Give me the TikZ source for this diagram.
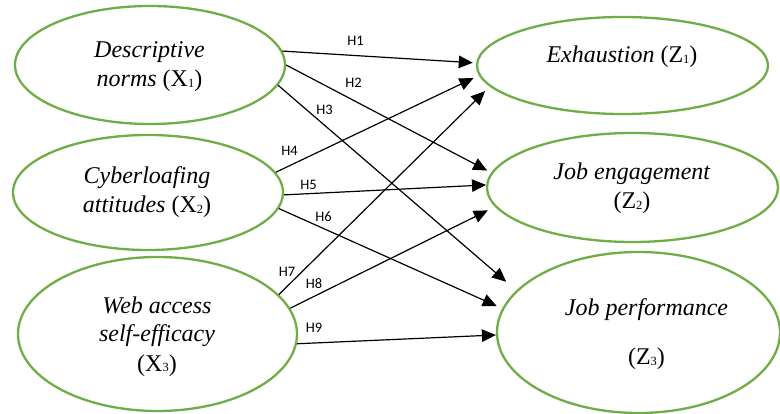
\documentclass[tikz,border=0pt]{standalone}
\usepackage{fontspec}
\setmainfont{Liberation Serif}[ItalicFont={Liberation Serif Italic},BoldFont={Liberation Serif Bold}]
\newfontfamily\lblfont{Carlito}
\usetikzlibrary{shapes.geometric,arrows.meta}
\definecolor{ogreen}{RGB}{112,173,71}
\newcommand{\sbx}[1]{\raisebox{-1pt}{\fontsize{12.5}{12.5}\selectfont #1}}
\begin{document}
\begin{tikzpicture}[x=1pt,y=-1pt,
  ell/.style={ellipse,draw=ogreen,line width=2.3pt,inner sep=0pt},
  txt/.style={font=\fontsize{24}{29}\selectfont,align=center,anchor=base,inner sep=0pt},
  hlab/.style={font=\lblfont\fontsize{14.5}{14.5}\selectfont,inner sep=0pt},
  conn/.style={line width=1.2pt,-{Triangle[length=14pt,width=12.5pt]}}]
\useasboundingbox (0,0) rectangle (780,414);

% ellipses
\node[ell,minimum width=270pt,minimum height=118pt] (X1) at (150,65) {};
\node[ell,minimum width=270pt,minimum height=115pt] (X2) at (148,192.5) {};
\node[ell,minimum width=279pt,minimum height=154pt] (X3) at (157.5,334) {};
\node[ell,minimum width=291pt,minimum height=97pt] (Z1) at (622.5,65.5) {};
\node[ell,minimum width=291pt,minimum height=109pt] (Z2) at (632.5,187.5) {};
\node[ell,minimum width=283pt,minimum height=161pt] (Z3) at (638.5,332.5) {};

% texts (base anchor = baseline of the last line)
\node[txt] (X1t) at (149.5,86.5) {\textit{Descriptive}\\\textit{norms} (X\sbx{1})};
\node[txt] (X2t) at (147,213) {\textit{Cyberloafing}\\\textit{attitudes} (X\sbx{2})};
\node[txt] (X3t) at (157,371) {\textit{Web access}\\\textit{self-efficacy}\\(X\sbx{3})};
\node[txt] (Z1t) at (622,63) {\textit{Exhaustion} (Z\sbx{1})};
\node[txt] (Z2t) at (632,209) {\textit{Job engagement}\\(Z\sbx{2})};
\node[txt] (Z3t) at (646.5,365) {\textit{Job performance}\\[21pt](Z\sbx{3})};

% connectors
\draw[conn,shorten >=3.3pt] (X1.6) -- (Z1.179);
\draw[conn,shorten >=4.5pt] (X1.0) -- (Z2.174);
\draw[conn,shorten >=13.3pt] (X1.-9) -- (Z3.161);
\draw[conn,shorten >=6pt] (X2.9) -- (Z1.184);
\draw[conn] (X2.-1) -- (Z2.179);
\draw[conn,shorten >=6pt] (X2.-7) -- (Z3.170);
\draw[conn,shorten >=6.5pt] (X3.18) -- (Z1.189);
\draw[conn,shorten >=8pt] (X3.11) -- (Z2.188);
\draw[conn] (X3.-4) -- (Z3.181);

% labels
\node[hlab] (h1) at (355.5,41.3) {H1};
\node[hlab] (h2) at (353.5,83) {H2};
\node[hlab] (h3) at (324.5,109.5) {H3};
\node[hlab] (h4) at (289.5,150.5) {H4};
\node[hlab] (h5) at (308.5,185) {H5};
\node[hlab] (h6) at (323.5,216.7) {H6};
\node[hlab] (h7) at (287,271.7) {H7};
\node[hlab] (h8) at (314,284) {H8};
\node[hlab] (h9) at (314,328) {H9};
\end{tikzpicture}
\end{document}
